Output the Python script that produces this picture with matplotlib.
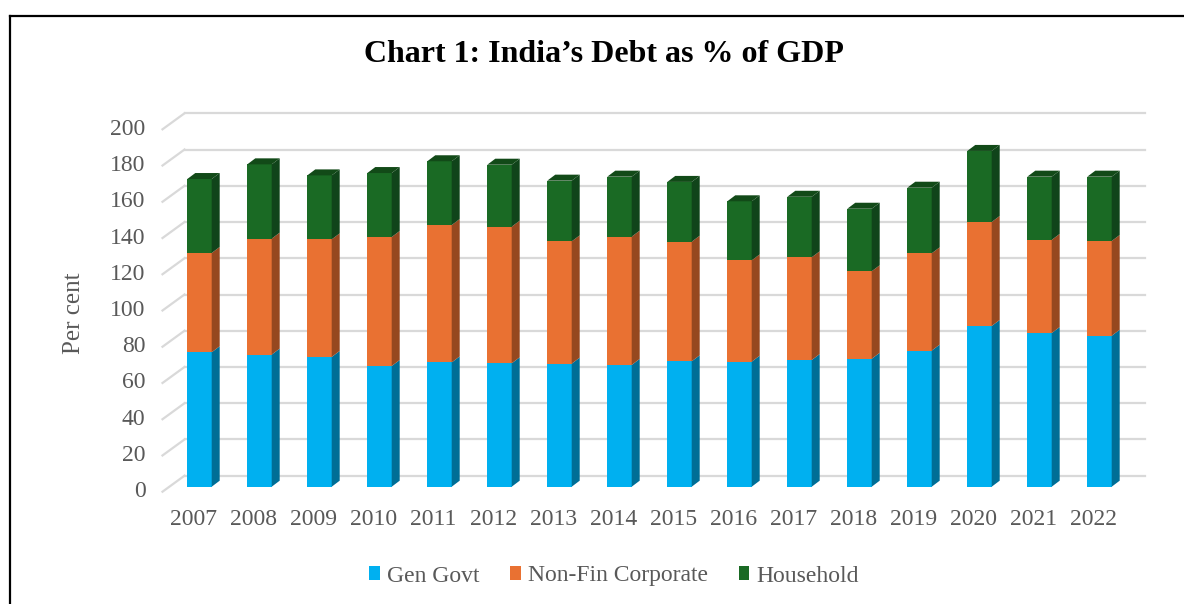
import matplotlib
matplotlib.use("Agg")
import matplotlib.pyplot as plt
from matplotlib.patches import Polygon, Patch
from matplotlib.lines import Line2D

plt.rcParams['font.family'] = ['Liberation Serif', 'DejaVu Serif']

years = ['2007', '2008', '2009', '2010', '2011', '2012', '2013', '2014',
         '2015', '2016', '2017', '2018', '2019', '2020', '2021', '2022']
gen_govt = [74.2, 72.9, 71.6, 66.6, 68.6, 68.1, 67.9, 67.2,
            69.2, 69.0, 69.9, 70.6, 75.1, 88.7, 84.8, 83.3]
non_fin_corp = [54.8, 64.0, 64.9, 71.2, 75.8, 75.4, 67.5, 70.8,
                66.0, 55.9, 56.7, 48.3, 53.7, 57.4, 51.4, 52.3]
household = [40.8, 41.0, 35.3, 35.3, 35.2, 34.2, 33.5, 33.1,
             33.0, 32.6, 33.4, 34.5, 36.2, 39.2, 34.9, 35.5]
series_names = ['Gen Govt', 'Non-Fin Corporate', 'Household']
front_colors = ['#00B0F0', '#E97132', '#1A6A24']
side_colors = ['#006E96', '#96481F', '#10441A']
top_colors = ['#0090C4', '#B85A28', '#124A18']
yticks = [0, 20, 40, 60, 80, 100, 120, 140, 160, 180, 200]

W, H = 1184, 604
fig = plt.figure(figsize=(W / 100, H / 100), dpi=100)
# axes = plane of the bars' front faces
ax = fig.add_axes([169.5 / W, (H - 486.7) / H, 960 / W, 362.4 / H])
ax.set_xlim(-0.5, len(years) - 0.5)
ax.set_ylim(0, 200)
ax.axis('off')

# pixel -> data unit conversions
ux = 1 / 60.0
uy = 200 / 362.4
wall_dx, wall_dy = 15 * ux, 11 * uy      # back wall offset
floor_dx, floor_dy = -7 * ux, -5 * uy    # front floor edge offset
bar_dx, bar_dy = 8 * ux, 6 * uy          # bar depth
bw = 24.4 * ux
grid_c = '#D9D9D9'
txt_c = '#595959'

# gridlines on back wall + left wall diagonals
x0 = -0.5
x1 = len(years) - 0.5
for v in yticks:
    ax.plot([x0 + wall_dx, x1 + wall_dx], [v + wall_dy, v + wall_dy],
            color=grid_c, lw=1.6, clip_on=False, zorder=1)
    ax.plot([x0 + floor_dx, x0 + wall_dx], [v + floor_dy, v + wall_dy],
            color=grid_c, lw=1.6, clip_on=False, zorder=1)
    ax.text(x0 + floor_dx - 17 * ux, v + floor_dy, str(v), ha='right', va='center',
            fontsize=17, color=txt_c, clip_on=False)

# bars
series = [gen_govt, non_fin_corp, household]
for i, yr in enumerate(years):
    base = 0
    for s, vals in enumerate(series):
        top = base + vals[i]
        l, r = i - bw / 2, i + bw / 2
        ax.add_patch(Polygon([(l, base), (r, base), (r, top), (l, top)],
                             closed=True, fc=front_colors[s], ec='none', zorder=3))
        ax.add_patch(Polygon([(r, base), (r + bar_dx, base + bar_dy),
                              (r + bar_dx, top + bar_dy), (r, top)],
                             closed=True, fc=side_colors[s], ec='none', zorder=3))
        if s == len(series) - 1:
            ax.add_patch(Polygon([(l, top), (l + bar_dx, top + bar_dy),
                                  (r + bar_dx, top + bar_dy), (r, top)],
                                 closed=True, fc=top_colors[s], ec='none', zorder=3))
        base = top
    ax.text(i - 6 * ux, -33 * uy, yr, ha='center', va='center',
            fontsize=17, color=txt_c, clip_on=False)

fig.text(74 / W, 1 - 313 / H, 'Per cent', rotation=90, ha='center', va='center',
         fontsize=18, color=txt_c)
fig.text(604 / W, 1 - 55 / H, 'Chart 1: India\u2019s Debt as % of GDP', ha='center',
         va='center', fontsize=23, fontweight='bold', color='black')

handles = [Patch(fc=c, ec='none') for c in front_colors]
fig.legend(handles, series_names, loc='center', bbox_to_anchor=(614 / W, 1 - 576 / H),
           ncol=3, frameon=False, fontsize=17, labelcolor=txt_c,
           handlelength=0.45, handleheight=0.55, handletextpad=0.3, columnspacing=1.3)

# outer frame (left and top edges visible)
fig.add_artist(Line2D([10 / W, 10 / W], [0, 1 - 16 / H], color='black', lw=1.6))
fig.add_artist(Line2D([10 / W, 1], [1 - 16 / H, 1 - 16 / H], color='black', lw=1.6))

fig.savefig('out.png', dpi=100, facecolor='white')
